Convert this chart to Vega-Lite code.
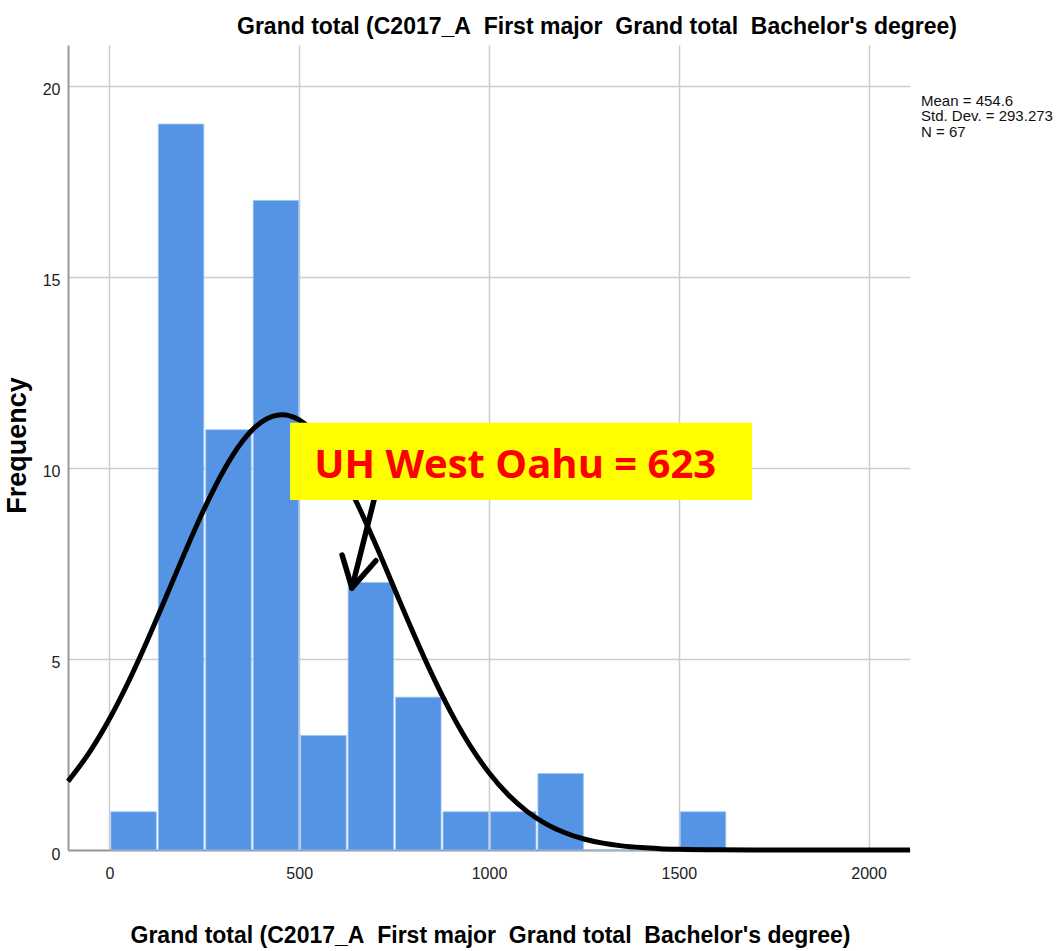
{
  "$schema": "https://vega.github.io/schema/vega-lite/v6.json",
  "autosize": {"type": "none"},
  "width": 842,
  "height": 805,
  "padding": {"left": 68, "top": 45, "right": 154, "bottom": 101},
  "background": "white",
  "config": {
    "view": {"stroke": null},
    "font": "Liberation Sans, Arial, sans-serif"
  },
  "title": {
    "text": "Grand total (C2017_A\u00a0 First major\u00a0 Grand total\u00a0 Bachelor's degree)",
    "font": "Liberation Sans, Arial, sans-serif",
    "fontSize": 23,
    "fontWeight": "bold",
    "color": "#000000",
    "anchor": "middle",
    "frame": "group",
    "dx": 108,
    "offset": 6
  },
  "datasets": {
    "bins": [
      {"bin_start": 0, "bin_end": 125, "count": 1},
      {"bin_start": 125, "bin_end": 250, "count": 19},
      {"bin_start": 250, "bin_end": 375, "count": 11},
      {"bin_start": 375, "bin_end": 500, "count": 17},
      {"bin_start": 500, "bin_end": 625, "count": 3},
      {"bin_start": 625, "bin_end": 750, "count": 7},
      {"bin_start": 750, "bin_end": 875, "count": 4},
      {"bin_start": 875, "bin_end": 1000, "count": 1},
      {"bin_start": 1000, "bin_end": 1125, "count": 1},
      {"bin_start": 1125, "bin_end": 1250, "count": 2},
      {"bin_start": 1250, "bin_end": 1375, "count": 0},
      {"bin_start": 1375, "bin_end": 1500, "count": 0},
      {"bin_start": 1500, "bin_end": 1625, "count": 1}
    ],
    "curve": [
      {"x": -109, "y": 1.797},
      {"x": -50, "y": 2.593},
      {"x": 0, "y": 3.427},
      {"x": 50, "y": 4.398},
      {"x": 100, "y": 5.485},
      {"x": 150, "y": 6.644},
      {"x": 200, "y": 7.816},
      {"x": 250, "y": 8.932},
      {"x": 300, "y": 9.915},
      {"x": 350, "y": 10.691},
      {"x": 400, "y": 11.197},
      {"x": 454.6, "y": 11.393},
      {"x": 500, "y": 11.257},
      {"x": 550, "y": 10.806},
      {"x": 600, "y": 10.075},
      {"x": 650, "y": 9.125},
      {"x": 700, "y": 8.028},
      {"x": 750, "y": 6.86},
      {"x": 800, "y": 5.694},
      {"x": 850, "y": 4.591},
      {"x": 900, "y": 3.596},
      {"x": 950, "y": 2.735},
      {"x": 1000, "y": 2.022},
      {"x": 1050, "y": 1.451},
      {"x": 1100, "y": 1.011},
      {"x": 1150, "y": 0.685},
      {"x": 1200, "y": 0.451},
      {"x": 1250, "y": 0.288},
      {"x": 1300, "y": 0.179},
      {"x": 1350, "y": 0.108},
      {"x": 1400, "y": 0.0632},
      {"x": 1450, "y": 0.0359},
      {"x": 1500, "y": 0.0198},
      {"x": 1600, "y": 0.0055},
      {"x": 1700, "y": 0.0014},
      {"x": 1800, "y": 0.0003},
      {"x": 2000, "y": 0},
      {"x": 2109, "y": 0}
    ],
    "arrow": [
      {"x1": 697, "y1": 9.16, "x2": 639, "y2": 6.86},
      {"x1": 639, "y1": 6.86, "x2": 613, "y2": 7.72},
      {"x1": 639, "y1": 6.86, "x2": 702, "y2": 7.57}
    ],
    "box": [
      {"x1": 476, "x2": 1693, "y1": 11.18, "y2": 9.16, "xc": 1069, "yc": 10.05, "label": "UH West Oahu = 623"}
    ],
    "stats": [
      {"x": 2138, "y": 19.8, "label": ["Mean = 454.6", "Std. Dev. = 293.273", "N = 67"]}
    ]
  },
  "layer": [
    {
      "data": {"name": "bins"},
      "mark": {"type": "bar", "color": "#5594e4", "stroke": "#9cc3f0", "strokeWidth": 0.8, "binSpacing": 2},
      "encoding": {
        "x": {
          "field": "bin_start", "type": "quantitative", "bin": "binned",
          "scale": {"domain": [-109, 2109], "nice": false, "zero": false},
          "axis": {
            "values": [0, 500, 1000, 1500, 2000],
            "format": "d",
            "title": "Grand total (C2017_A\u00a0 First major\u00a0 Grand total\u00a0 Bachelor's degree)",
            "titleFont": "Liberation Sans, Arial, sans-serif",
            "titleFontSize": 23, "titleFontWeight": "bold", "titleColor": "#000000",
            "titleX": 422, "titleY": 92, "titleAlign": "center", "titleBaseline": "alphabetic",
            "labelFontSize": 16, "labelColor": "#222222", "labelPadding": 15,
            "labelFont": "Liberation Sans, Arial, sans-serif",
            "ticks": false,
            "grid": true, "gridColor": "#cccccc", "gridWidth": 1.5,
            "domainColor": "#9a9a9a", "domainWidth": 2
          }
        },
        "x2": {"field": "bin_end"},
        "y": {
          "field": "count", "type": "quantitative",
          "scale": {"domain": [0, 21.07], "nice": false},
          "axis": {
            "values": [0, 5, 10, 15, 20],
            "title": "Frequency",
            "titleFont": "Liberation Sans, Arial, sans-serif",
            "titleFontSize": 27, "titleFontWeight": "bold", "titleColor": "#000000",
            "titleX": -43, "titleY": 400, "titleAngle": 270, "titleAlign": "center", "titleBaseline": "alphabetic",
            "labelFontSize": 16, "labelColor": "#222222", "labelPadding": 8, "labelOffset": 4,
            "labelFont": "Liberation Sans, Arial, sans-serif",
            "ticks": false,
            "grid": true, "gridColor": "#cccccc", "gridWidth": 1.5,
            "domainColor": "#9a9a9a", "domainWidth": 2
          }
        }
      }
    },
    {
      "data": {"name": "curve"},
      "mark": {"type": "line", "color": "#000000", "strokeWidth": 5, "interpolate": "monotone"},
      "encoding": {
        "x": {"field": "x", "type": "quantitative"},
        "y": {"field": "y", "type": "quantitative"}
      }
    },
    {
      "data": {"name": "arrow"},
      "mark": {"type": "rule", "color": "#000000", "strokeWidth": 5.5, "strokeCap": "round"},
      "encoding": {
        "x": {"field": "x1", "type": "quantitative"},
        "y": {"field": "y1", "type": "quantitative"},
        "x2": {"field": "x2"},
        "y2": {"field": "y2"}
      }
    },
    {
      "data": {"name": "box"},
      "mark": {"type": "rect", "color": "#ffff00"},
      "encoding": {
        "x": {"field": "x1", "type": "quantitative"},
        "x2": {"field": "x2"},
        "y": {"field": "y1", "type": "quantitative"},
        "y2": {"field": "y2"}
      }
    },
    {
      "data": {"name": "box"},
      "mark": {"type": "text", "color": "#ff0000", "font": "Open Sans", "fontSize": 40, "fontWeight": "bold", "align": "center", "baseline": "middle"},
      "encoding": {
        "x": {"field": "xc", "type": "quantitative"},
        "y": {"field": "yc", "type": "quantitative"},
        "text": {"field": "label"}
      }
    },
    {
      "data": {"name": "stats"},
      "mark": {"type": "text", "color": "#111111", "font": "Liberation Sans, Arial, sans-serif", "fontSize": 15, "lineHeight": 15.5, "align": "left", "baseline": "top"},
      "encoding": {
        "x": {"field": "x", "type": "quantitative"},
        "y": {"field": "y", "type": "quantitative"},
        "text": {"field": "label"}
      }
    }
  ]
}
